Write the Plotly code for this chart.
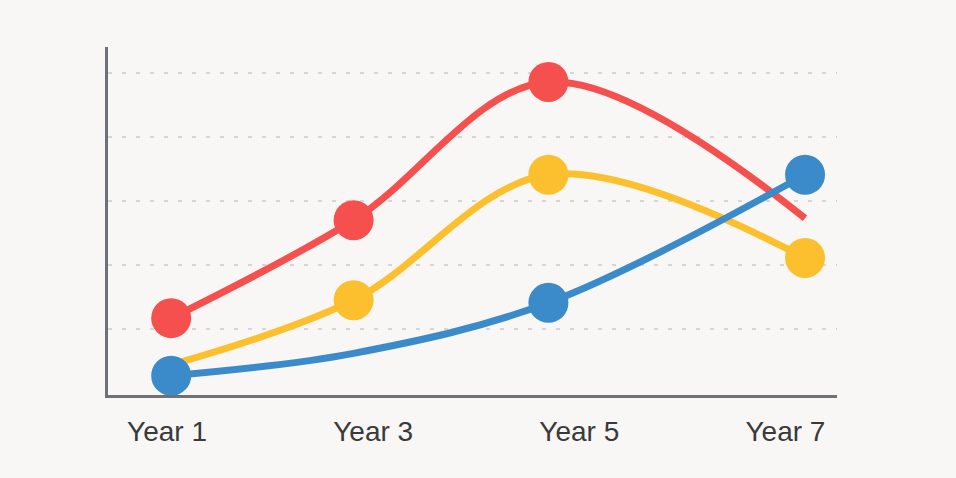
import plotly.graph_objects as go

# Data
tick_vals = [1, 3, 5, 7]
tick_labels = ["Year 1", "Year 3", "Year 5", "Year 7"]
x_pos = [1.04, 2.81, 4.70, 7.19]

red_vals = [1.17, 2.70, 4.86, 2.73]
red_marks = [True, True, True, False]
yellow_vals = [0.44, 1.45, 3.41, 2.11]
yellow_marks = [False, True, True, True]
blue_vals = [0.27, 0.62, 1.41, 3.41]
blue_marks = [True, False, True, True]

series = [
    ("Red", red_vals, red_marks, "#f5504e"),
    ("Yellow", yellow_vals, yellow_marks, "#fcc02e"),
    ("Blue", blue_vals, blue_marks, "#3b8bcb"),
]

fig = go.Figure()
for name, vals, marks, color in series:
    fig.add_trace(go.Scatter(
        x=x_pos, y=vals, mode="lines", name=name,
        line=dict(color=color, width=7, shape="spline", smoothing=1.0),
        hoverinfo="skip", showlegend=False,
    ))
    mx = [x for x, m in zip(x_pos, marks) if m]
    my = [y for y, m in zip(vals, marks) if m]
    fig.add_trace(go.Scatter(
        x=mx, y=my, mode="markers", name=name,
        marker=dict(color=color, size=40, line=dict(width=0)),
        showlegend=False,
    ))

bg = "#f8f7f5"
fig.update_layout(
    width=956, height=478,
    paper_bgcolor=bg, plot_bgcolor=bg,
    margin=dict(l=108, r=119, t=47, b=83),
    showlegend=False,
)
fig.update_xaxes(
    range=[0.427, 7.5],
    tickvals=tick_vals, ticktext=tick_labels,
    showgrid=False, zeroline=False,
    showline=True, linecolor="#6e7278", linewidth=3,
    ticks="", ticklabelstandoff=9,
    tickfont=dict(family="Liberation Sans, Arial, sans-serif", size=28, color="#3a3a3a"),
)
fig.update_yaxes(
    range=[-0.031, 5.406],
    tickvals=[1, 2, 3, 4, 5],
    showticklabels=False,
    showgrid=True, gridcolor="#d6d6d6", gridwidth=2, griddash="4px,10px",
    zeroline=False,
    showline=True, linecolor="#6e7278", linewidth=3,
)

fig.write_html(
    "out.html",
    config={"displayModeBar": False},
    post_script="document.body.style.margin='0';document.body.style.overflow='hidden';document.body.style.background='%s';" % bg,
)
